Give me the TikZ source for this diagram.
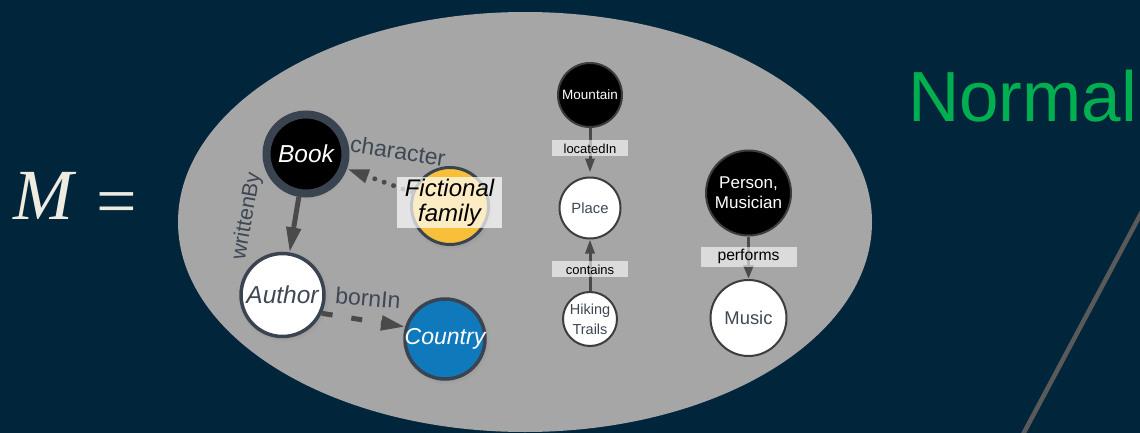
\documentclass[tikz,border=0pt]{standalone}
\usepackage{xcolor}
\usepackage{amsmath}
\usepackage[no-math]{fontspec}
\setmainfont{Liberation Sans}
\newfontfamily\formulafont{Liberation Serif}
\usepackage{tikz}
\usetikzlibrary{arrows.meta, shadows}
\definecolor{kg-navy}{HTML}{01263C}
\definecolor{kg-ellipse}{HTML}{A6A6A6}
\definecolor{kg-rim}{HTML}{3A4450}
\definecolor{kg-rim2}{HTML}{3D3D3D}
\definecolor{kg-ink}{HTML}{3E4855}
\definecolor{kg-edge}{HTML}{4A4A4A}
\definecolor{kg-yellow}{HTML}{F8C03A}
\definecolor{kg-blue}{HTML}{0F79BC}
\definecolor{kg-green}{HTML}{00B050}
\definecolor{kg-chalk}{HTML}{EEEBE1}
\definecolor{kg-slash}{HTML}{5A5A5A}

\begin{document}
\begin{tikzpicture}[x=1pt, y=-1pt,
    entity/.style={circle, draw=kg-rim, line width=3.5pt, inner sep=0pt, align=center,
        font=\fontsize{24.5}{26}\selectfont\itshape,
        circular drop shadow={shadow xshift=1pt, shadow yshift=-1.5pt, opacity=0.3}},
    instance/.style={circle, draw=kg-rim2, line width=2pt, inner sep=0pt, align=center},
    tag/.style={fill=white, fill opacity=0.6, text opacity=1, text=black, inner sep=0pt,
        minimum width=76pt, minimum height=16pt, font=\fontsize{13}{13}\selectfont},
    relation/.style={text=kg-ink, font=\fontsize{23}{23}\selectfont},
    link/.style={kg-edge, line width=3pt, -{Triangle[length=14pt,width=9pt]}}]
    % backdrop, ellipse and the slash on the right
    \fill[kg-navy] (0,0) rectangle (1140,433);
    \clip (0,0) rectangle (1140,433);
    \fill[kg-ellipse] (525,222) ellipse [x radius=347pt, y radius=210pt];
    \draw[kg-slash, line width=4.5pt] (1020,440) -- (1146,204);

    \node[text=kg-chalk, font=\formulafont\fontsize{72}{72}\selectfont\itshape] (m-lhs) at (43,196) {M};
    \node[text=kg-chalk, font=\formulafont\fontsize{72}{72}\selectfont] (m-eq) at (117,209) {=};
    \node[text=kg-green, anchor=base west, inner sep=0pt, font=\fontsize{71}{71}\selectfont] (normal-title) at (908,122) {Normal};

    % book / author / country
    \node[entity, fill=black, text=white, line width=8pt, minimum size=79pt] (book) at (306,154) {Book};
    \node[entity, fill=white, text=kg-ink, minimum size=83pt] (author) at (282.5,295) {Author};
    \node[entity, fill=kg-blue, text=white, minimum size=80pt, inner sep=-3pt,
        font=\fontsize{23}{23}\selectfont\itshape] (country) at (445,339) {Country};
    \node[entity, fill=kg-yellow, line width=3pt, minimum size=77pt] (fictional) at (450,206) {};

    \draw[kg-edge, line width=5pt, -{Triangle[length=25pt,width=14pt]}] (book) -- (author);
    \draw[kg-edge, line width=5pt, line cap=round, dash pattern=on 0pt off 10pt,
        -{Triangle[length=22pt,width=13pt]}] (fictional) -- (book);
    \draw[kg-edge, line width=5pt, dash pattern=on 11pt off 19pt,
        -{Triangle[length=24pt,width=14pt]}] (author.-25) -- (country.163);

    \node[relation, rotate=-9] (character-lbl) at (398,151) {character};
    \node[relation, rotate=80, font=\fontsize{21.5}{21.5}\selectfont] (writtenby-lbl) at (247,216) {writtenBy};
    \node[relation, rotate=-5] (bornin-lbl) at (368,298) {bornIn};

    \node[fill=white, fill opacity=0.7, text opacity=1, minimum width=105pt, minimum height=51pt,
        inner sep=0pt, align=center, font=\fontsize{24}{25}\selectfont\itshape] (fictional-tag)
        at (449.5,202.5) {Fictional\\family};

    % mountain chain
    \node[instance, fill=black, text=white, minimum size=64pt, font=\fontsize{13.5}{14}\selectfont] (mountain) at (590,95) {Mountain};
    \node[instance, fill=white, text=kg-ink, minimum size=61pt, font=\fontsize{14.8}{16}\selectfont] (place) at (590,208) {Place};
    \node[instance, fill=white, text=kg-ink, minimum size=54pt, font=\fontsize{14.5}{20}\selectfont] (trails) at (590,319) {Hiking\\Trails};
    \draw[link, shorten >=4pt] (mountain) -- node[tag, pos=0.42] {locatedIn} (place);
    \draw[link] (trails) -- node[tag, pos=0.42] {contains} (place);

    % musician
    \node[instance, fill=black, text=white, minimum size=85pt, font=\fontsize{17}{20}\selectfont] (musician) at (748.5,193) {Person,\\Musician};
    \node[instance, fill=white, text=kg-ink, minimum size=76pt, font=\fontsize{18.4}{20}\selectfont] (music) at (748.5,318) {Music};
    \draw[link, line width=3.5pt, -{Triangle[length=14pt,width=10pt]}] (musician) --
        node[tag, pos=0.48, minimum width=96pt, minimum height=20pt, font=\fontsize{15.7}{16}\selectfont] {performs} (music);
\end{tikzpicture}
\end{document}
